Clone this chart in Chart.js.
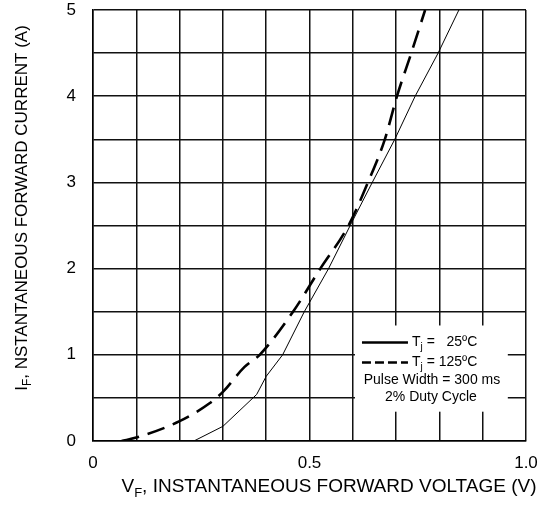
<!DOCTYPE html>
<html>
<head>
<meta charset="utf-8">
<script src="https://cdn.jsdelivr.net/npm/chart.js@4"></script>
<style>
  html, body { margin: 0; padding: 0; background: #fff; }
  #chart { display: block; }
</style>
</head>
<body>
<canvas id="chart" width="551" height="511"></canvas>
<script>
// forward characteristic
const vf25 = [0.233, 0.30, 0.378, 0.40, 0.438, 0.488, 0.544, 0.594, 0.645, 0.697, 0.744, 0.797, 0.845];
const if25 = [0, 0.17, 0.54, 0.75, 1.0, 1.5, 2.0, 2.5, 3.0, 3.5, 4.0, 4.5, 5.0];

const vf125 = [0.066, 0.10, 0.20, 0.27, 0.30, 0.35, 0.385, 0.462, 0.525, 0.59, 0.635, 0.674, 0.702, 0.735, 0.767];
const if125 = [0, 0.04, 0.23, 0.44, 0.57, 0.86, 1.0, 1.5, 2.0, 2.5, 3.0, 3.5, 4.0, 4.5, 5.0];

const xTickLabels = ["0", "0.5", "1.0"];
const yTickLabels = ["0", "1", "2", "3", "4", "5"];

const FONT = "'Liberation Sans', Arial, sans-serif";

function pts(xs, ys) {
  return xs.map((x, i) => ({x: x, y: ys[i]}));
}

// text with a subscript part; align "center" or "left" around the origin
function subText(ctx, parts, size, align) {
  const big = size + "px " + FONT, small = Math.round(size * 0.7) + "px " + FONT;
  let w = 0;
  parts.forEach(p => { ctx.font = p.sub ? small : big; w += ctx.measureText(p.t).width; });
  let x = align === "left" ? 0 : -w / 2;
  ctx.textBaseline = "middle";
  ctx.textAlign = "left";
  parts.forEach(p => {
    ctx.font = p.sub ? small : big;
    ctx.fillText(p.t, x, p.sub ? size * 0.32 : 0);
    x += ctx.measureText(p.t).width;
  });
}

const extras = {
  id: "extras",
  afterDatasetsDraw(chart) {
    const ctx = chart.ctx;
    const xs = chart.scales.x, ys = chart.scales.y;
    ctx.save();
    ctx.fillStyle = "#000";

    // axis titles
    ctx.save();
    ctx.translate(329, 487);
    subText(ctx, [{t: "V"}, {t: "F", sub: true}, {t: ", INSTANTANEOUS FORWARD VOLTAGE (V)"}], 19);
    ctx.restore();

    ctx.save();
    ctx.translate(22, 208);
    ctx.rotate(-Math.PI / 2);
    subText(ctx, [{t: "I"}, {t: "F", sub: true}, {t: ", NSTANTANEOUS FORWARD CURRENT (A)"}], 17);
    ctx.restore();

    // legend box (white, hides the grid)
    const bx = xs.getPixelForValue(0.605), bx2 = xs.getPixelForValue(0.958);
    const by = ys.getPixelForValue(1.34), by2 = ys.getPixelForValue(0.34);
    ctx.fillStyle = "#fff";
    ctx.fillRect(bx, by, bx2 - bx, by2 - by);

    ctx.strokeStyle = "#000";
    ctx.lineWidth = 2.5;
    ctx.beginPath();
    ctx.moveTo(bx + 7, by + 17); ctx.lineTo(bx + 53, by + 17);
    ctx.stroke();
    ctx.setLineDash([9, 4]);
    ctx.beginPath();
    ctx.moveTo(bx + 7, by + 37); ctx.lineTo(bx + 53, by + 37);
    ctx.stroke();
    ctx.setLineDash([]);

    ctx.fillStyle = "#000";
    ctx.save();
    ctx.translate(bx + 57, by + 17);
    subText(ctx, [{t: "T"}, {t: "j", sub: true}, {t: " =   25ºC"}], 14, "left");
    ctx.restore();
    ctx.save();
    ctx.translate(bx + 57, by + 37);
    subText(ctx, [{t: "T"}, {t: "j", sub: true}, {t: " = 125ºC"}], 14, "left");
    ctx.restore();

    ctx.font = "14px " + FONT;
    ctx.textAlign = "center";
    ctx.textBaseline = "middle";
    ctx.fillText("Pulse Width = 300 ms", bx + 77, by + 55);
    ctx.fillText("2% Duty Cycle", bx + 76, by + 72);
    ctx.restore();
  }
};

function near(v, list) {
  const hit = list.find(s => Math.abs(parseFloat(s) - v) < 1e-6);
  return hit === undefined ? "" : hit;
}

new Chart(document.getElementById("chart"), {
  type: "scatter",
  data: {
    datasets: [
      {
        label: "Tj = 25ºC",
        data: pts(vf25, if25),
        showLine: true,
        borderColor: "#000",
        borderWidth: 1,
        pointRadius: 0,
        tension: 0
      },
      {
        label: "Tj = 125ºC",
        data: pts(vf125, if125),
        showLine: true,
        borderColor: "#000",
        borderWidth: 2.6,
        borderDash: [18, 9],
        pointRadius: 0,
        cubicInterpolationMode: "monotone"
      }
    ]
  },
  options: {
    responsive: false,
    animation: false,
    layout: { padding: { top: 10, right: 25, left: 0, bottom: 0 } },
    plugins: { legend: { display: false }, tooltip: { enabled: false } },
    scales: {
      x: {
        type: "linear",
        min: 0, max: 1,
        afterFit: s => { s.height = 70; s.paddingLeft = 0; s.paddingRight = 0; },
        border: { color: "#000", width: 1.5 },
        grid: { color: "#111", lineWidth: 1.5, drawTicks: false },
        ticks: {
          stepSize: 0.1,
          autoSkip: false,
          maxRotation: 0,
          padding: 12,
          color: "#000",
          font: { family: FONT, size: 17 },
          callback: v => near(v, xTickLabels)
        }
      },
      y: {
        type: "linear",
        min: 0, max: 5,
        afterFit: s => { s.width = 93; s.paddingTop = 0; s.paddingBottom = 0; },
        border: { color: "#000", width: 1.5 },
        grid: { color: "#111", lineWidth: 1.5, drawTicks: false },
        ticks: {
          stepSize: 0.5,
          autoSkip: false,
          padding: 17,
          color: "#000",
          font: { family: FONT, size: 17 },
          callback: v => near(v, yTickLabels)
        }
      }
    }
  },
  plugins: [extras]
});
</script>
</body>
</html>
